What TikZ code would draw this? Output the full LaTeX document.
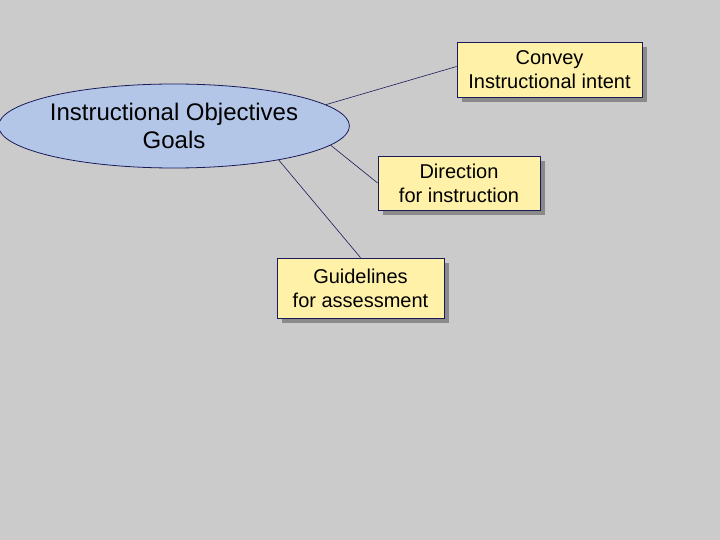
\documentclass[tikz,border=0pt]{standalone}
\usepackage{fontspec}
\setmainfont{Liberation Sans}
\usetikzlibrary{shadows,shapes.geometric}
\definecolor{bg}{HTML}{CBCBCB}
\definecolor{boxfill}{HTML}{FFF2A8}
\definecolor{navy}{HTML}{1A1A5A}
\definecolor{ellfill}{HTML}{B3C6E8}
\definecolor{shad}{HTML}{8A8A8A}
\tikzset{
  box/.style={draw=navy, fill=boxfill, line width=0.8pt, align=center, font=\fontsize{20}{24}\selectfont,
    drop shadow={shadow xshift=5pt, shadow yshift=-5pt, fill=shad, opacity=1}, inner sep=0pt},
  conn/.style={draw=navy, line width=0.6pt}
}
\begin{document}
\begin{tikzpicture}[x=1pt,y=-1pt]
\fill[bg] (0,0) rectangle (720,540);
\useasboundingbox (0,0) rectangle (720,540);
\node[ellipse, draw=navy, fill=ellfill, line width=0.8pt, minimum width=302pt, minimum height=84pt, inner sep=0pt,
  align=center, font=\fontsize{24}{28}\selectfont] (e) at (174,126) {Instructional Objectives\\Goals};
\node[box, minimum width=185pt, minimum height=55pt] (b1) at (549.5,69.5) {Convey\\Instructional intent};
\node[box, minimum width=162pt, minimum height=54pt] (b2) at (459,183) {Direction\\for instruction};
\node[box, minimum width=167pt, minimum height=60pt] (b3) at (360.5,288) {Guidelines\\for assessment};
\draw[conn] (e.8.4) -- ([yshift=3pt]b1.west);
\draw[conn] (e.-7.5) -- (b2.west);
\draw[conn] (e.-18.4) -- (b3.north);
\end{tikzpicture}
\end{document}
